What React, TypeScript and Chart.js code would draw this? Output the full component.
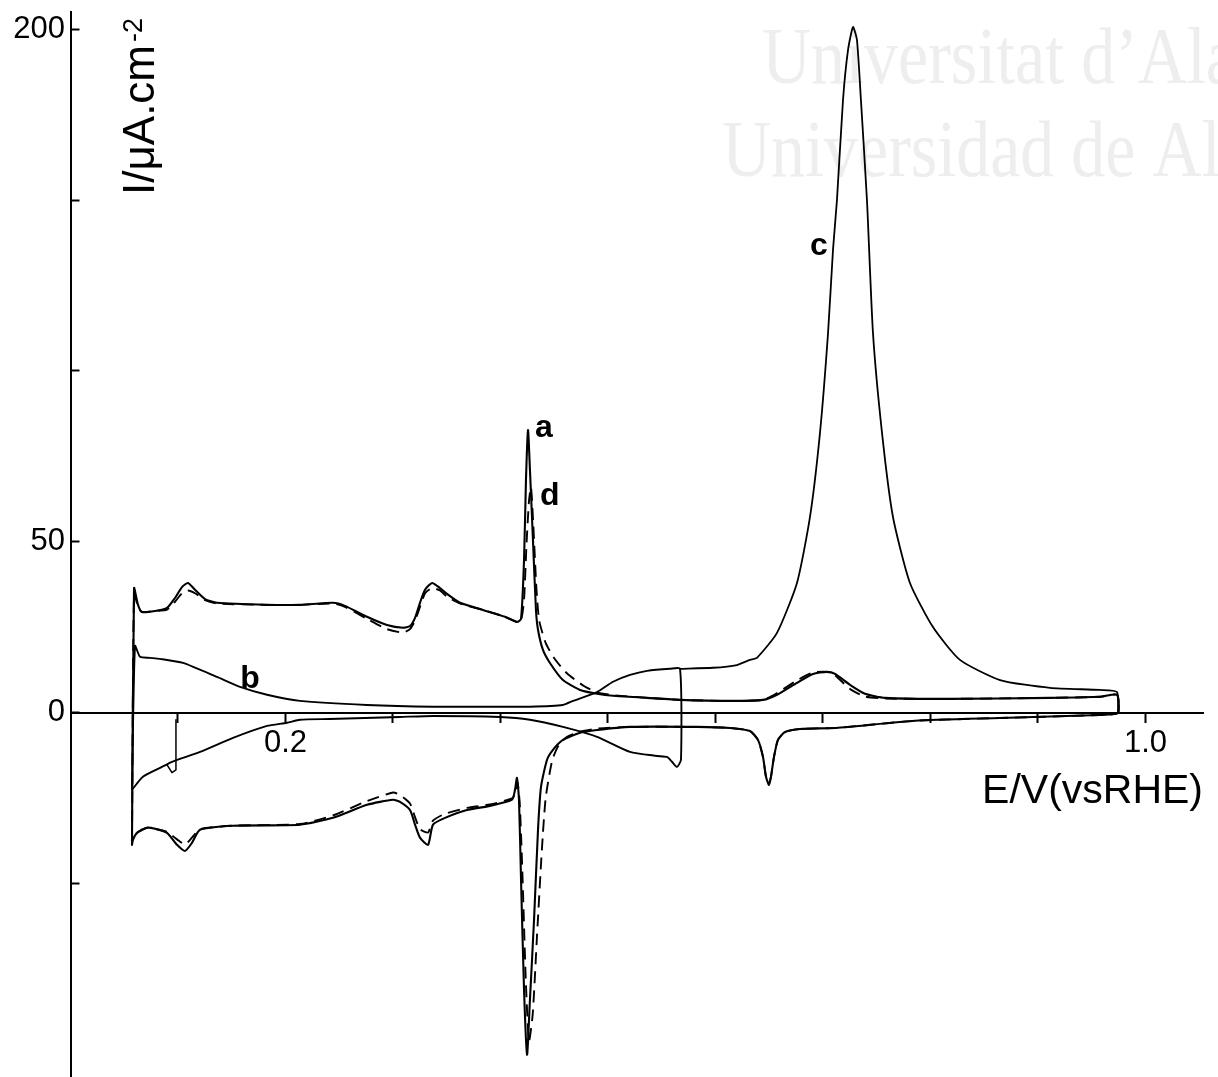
import React, { useEffect, useRef } from "react";
import { Chart, registerables } from "chart.js";

Chart.register(...registerables);

// ---- Data (E in V vs RHE, I in µA·cm⁻²) ----
// Curve a (solid, full voltammogram)
const aPotential = [
  0.0572, 0.0591, 0.0628, 0.0665, 0.0786, 0.0898, 0.0972, 0.1037, 0.1093, 0.1158,
  0.1251, 0.1363, 0.1828, 0.2135, 0.2442, 0.2553, 0.2758, 0.2944, 0.3093, 0.3158,
  0.3205, 0.3251, 0.3298, 0.3363, 0.3437, 0.3502, 0.3623, 0.3837, 0.4042, 0.4153,
  0.4191, 0.4219, 0.4237, 0.4256, 0.4274, 0.4302, 0.433, 0.4349, 0.4395, 0.446,
  0.4581, 0.474, 0.4898, 0.5047, 0.5363, 0.567, 0.6135, 0.6442, 0.6572, 0.6758,
  0.6907, 0.7037, 0.7112, 0.7251, 0.7391, 0.7577, 0.8181, 0.9112, 0.9577, 0.9735,
  0.9744, 0.9577, 0.8647, 0.7856, 0.7121, 0.6786, 0.6647, 0.6581, 0.6544, 0.6516,
  0.6498, 0.647, 0.6442, 0.6395, 0.6321, 0.6135, 0.5828, 0.5205, 0.4898, 0.474,
  0.4581, 0.4488, 0.4433, 0.4377, 0.4349, 0.4312, 0.4274, 0.4247, 0.4219, 0.4191,
  0.4172, 0.4153, 0.4135, 0.4107, 0.3902, 0.3688, 0.3484, 0.3372, 0.3326, 0.3251,
  0.3205, 0.3158, 0.3065, 0.3, 0.2758, 0.2442, 0.2135, 0.1512, 0.1205, 0.113,
  0.1065, 0.0991, 0.0898, 0.0786, 0.0712, 0.0619, 0.0581, 0.0572,
];
const aCurrent = [
  -38.6, 36.5, 31.6, 29.5, 29.8, 30.7, 33.6, 36.8, 38.0, 36.0,
  33.3, 32.2, 31.6, 31.6, 32.2, 31.3, 28.1, 25.7, 24.9, 25.4,
  27.8, 32.2, 36.0, 38.0, 36.5, 34.8, 32.2, 30.1, 28.1, 26.6,
  27.5, 44.7, 68.1, 82.7, 71.1, 50.6, 30.1, 24.3, 18.4, 14.6,
  9.6, 6.7, 5.6, 5.0, 4.4, 3.8, 3.5, 3.8, 5.3, 8.8,
  11.4, 12.0, 11.4, 8.2, 5.6, 4.4, 4.1, 4.4, 4.7, 5.3,
  0, -0.6, -1.5, -2.3, -4.4, -4.7, -5.6, -7.9, -12.9, -18.7,
  -21.1, -18.7, -12.9, -7.9, -5.3, -4.4, -4.1, -4.1, -5.0, -5.8,
  -7.9, -10.8, -13.7, -21.6, -34.2, -60.5, -83.9, -100, -81, -48.8,
  -25.4, -19.0, -22.5, -25.4, -27.2, -28.4, -30.7, -32.7, -38.6, -36.5,
  -32.7, -28.4, -26.0, -25.4, -26.9, -30.7, -32.7, -33.0, -34.2, -38.0,
  -40.4, -38.6, -35.1, -33.9, -33.6, -35.1, -37.1, -38.6,
];

// Curve d (dashed)
const dPotential = [
  0.0572, 0.0591, 0.0628, 0.0665, 0.0786, 0.0898, 0.0972, 0.1037, 0.1093, 0.1158,
  0.1251, 0.1363, 0.1828, 0.2135, 0.2442, 0.2553, 0.2758, 0.2944, 0.3093, 0.3158,
  0.3205, 0.3251, 0.3298, 0.3363, 0.3437, 0.3502, 0.3623, 0.3837, 0.4042, 0.4153,
  0.4191, 0.4219, 0.424, 0.4265, 0.4284, 0.4305, 0.4335, 0.436, 0.442, 0.45,
  0.462, 0.478, 0.4898, 0.5047, 0.5363, 0.567, 0.6135, 0.6442, 0.6572, 0.6758,
  0.6907, 0.7037, 0.7112, 0.7251, 0.7391, 0.7577, 0.8181, 0.9112, 0.9577, 0.9735,
  0.9744, 0.9577, 0.8647, 0.7856, 0.7121, 0.6786, 0.6647, 0.6581, 0.6544, 0.6516,
  0.6498, 0.647, 0.6442, 0.6395, 0.6321, 0.6135, 0.5828, 0.5205, 0.4898, 0.474,
  0.462, 0.454, 0.448, 0.442, 0.4385, 0.434, 0.43, 0.4265, 0.4235, 0.4205,
  0.418, 0.416, 0.414, 0.4107, 0.3902, 0.3688, 0.3484, 0.3372, 0.3326, 0.3251,
  0.3205, 0.3158, 0.3065, 0.3, 0.2758, 0.2442, 0.2135, 0.1512, 0.1205, 0.113,
  0.1065, 0.0991, 0.0898, 0.0786, 0.0712, 0.0619, 0.0581, 0.0572,
];
const dCurrent = [
  -37.5, 35.0, 31.0, 29.5, 29.8, 30.2, 32.5, 35.0, 35.8, 35.0,
  33.0, 32.0, 31.6, 31.6, 32.0, 31.0, 27.5, 24.5, 23.5, 24.5,
  27.0, 31.0, 35.0, 36.5, 35.8, 34.0, 32.0, 30.1, 28.1, 26.6,
  27.0, 33.0, 48.0, 62.0, 66.0, 55.0, 36.0, 27.0, 20.5, 16.0,
  11.5, 7.8, 6.0, 5.2, 4.4, 3.8, 3.5, 3.8, 5.8, 9.5,
  11.8, 12.0, 11.0, 7.0, 4.8, 4.2, 4.1, 4.4, 4.7, 5.3,
  0, -0.6, -1.5, -2.3, -4.4, -4.7, -5.6, -7.9, -12.9, -18.7,
  -20.5, -18.7, -12.9, -7.9, -5.3, -4.4, -4.1, -4.1, -4.6, -5.5,
  -7.0, -9.5, -14.0, -25.0, -40.0, -65.0, -88.0, -96.0, -78.0, -48.0,
  -27.0, -20.5, -23.5, -25.0, -26.8, -27.8, -29.5, -31.5, -35.0, -34.0,
  -30.5, -26.5, -24.0, -23.3, -25.8, -30.0, -32.5, -33.0, -34.0, -36.5,
  -38.5, -37.0, -34.8, -33.9, -33.6, -35.0, -36.8, -37.5,
];

// Curve b (solid, restricted window)
const bPotential = [
  0.0572, 0.06, 0.0647, 0.074, 0.0833, 0.1047, 0.1363, 0.1577, 0.1828, 0.2135,
  0.2758, 0.3372, 0.3995, 0.4274, 0.4581, 0.4674, 0.4898, 0.5047, 0.5205, 0.5363,
  0.5577, 0.567, 0.5679, 0.5642, 0.5595, 0.5549, 0.5456, 0.5205, 0.4898, 0.4581,
  0.4274, 0.3995, 0.3372, 0.3065, 0.2409, 0.2135, 0.2014, 0.1828, 0.1512, 0.1205,
  0.0944, 0.0833, 0.0674, 0.0572,
];
const bCurrent = [
  -22.5, 19.6, 16.4, 16.1, 15.8, 14.6, 10.5, 7.6, 5.3, 3.5,
  2.3, 1.8, 1.8, 1.8, 2.3, 3.5, 6.1, 9.1, 11.1, 12.3,
  12.9, 12.9, -13.7, -15.8, -14.3, -12.9, -12.6, -11.4, -7.0, -4.1,
  -2.0, -1.2, -0.9, -1.2, -1.8, -2.0, -2.9, -3.8, -7.3, -11.4,
  -14.3, -16.1, -18.7, -22.5,
];
// small start-of-scan trace at 0.1 V
const b0Potential = [0.0898, 0.0944, 0.0981, 0.0981];
const b0Current = [-15.2, -17.5, -16.7, -2.0];

// Curve c (solid, large oxidation peak)
const cPotential = [
  0.567, 0.5977, 0.62, 0.6321, 0.6386, 0.6572, 0.6758, 0.6879, 0.6972, 0.7047,
  0.7093, 0.713, 0.7186, 0.7233, 0.7279, 0.7316, 0.7353, 0.7409, 0.7465, 0.7549,
  0.7651, 0.7809, 0.8023, 0.8274, 0.8647, 0.9112, 0.9577, 0.9735, 0.9744,
];
const cCurrent = [
  12.9, 13.2, 14.0, 15.5, 16.1, 23.4, 38.0, 57.3, 81.9, 111.1,
  135.4, 150.0, 179.2, 193.9, 200.6, 196.8, 179.2, 150.0, 111.1, 81.9,
  57.3, 38.0, 25.1, 15.5, 9.6, 7.3, 6.7, 6.1, 0,
];

// Curve labels
const curveLabels = ["a", "d", "b", "c"];
const curveLabelPotential = [0.432, 0.4367, 0.158, 0.688];
const curveLabelCurrent = [80.7, 60.8, 7.3, 133.9];

// Axes
const xTickValues = [0.1, 0.2, 0.3, 0.4, 0.5, 0.6, 0.7, 0.8, 0.9, 1.0];
const xTickLabels = ["", "0.2", "", "", "", "", "", "", "", "1.0"];
const yTickValues = [-50, 0, 50, 100, 150, 200];
const yTickLabels = ["", "0", "50", "", "", "200"];
const xTitle = "E/V(vsRHE)";
const yTitle = "I/μA.cm";
const yTitleSup = "-2";
const watermarkLines = ["Universitat d\u2019Alacant", "Universidad de Alicante"];

const toPoints = (xs: number[], ys: number[]) => xs.map((x, i) => ({ x, y: ys[i] }));

const FONT = "'Liberation Sans', Arial, sans-serif";

const zeroPadding = (s: any) => {
  s.paddingTop = 0;
  s.paddingBottom = 0;
  s.paddingLeft = 0;
  s.paddingRight = 0;
};

const textPlugin = {
  id: "cvTexts",
  beforeDraw(chart: any) {
    const ctx = chart.ctx;
    ctx.save();
    ctx.fillStyle = "#eeeeee";
    ctx.font = "80px 'Liberation Serif', 'Times New Roman', serif";
    ctx.textBaseline = "alphabetic";
    ctx.textAlign = "left";
    const starts = [[762, 83], [722, 176]];
    watermarkLines.forEach((t, i) => {
      ctx.save();
      ctx.translate(starts[i][0], starts[i][1]);
      ctx.scale(0.85, 1);
      ctx.fillText(t, 0, 0);
      ctx.restore();
    });
    ctx.restore();
  },
  afterDraw(chart: any) {
    const ctx = chart.ctx;
    const xs = chart.scales.x;
    const ys = chart.scales.y;
    const area = chart.chartArea;
    ctx.save();
    ctx.fillStyle = "#000";
    // curve labels
    ctx.font = `bold 32px ${FONT}`;
    ctx.textAlign = "left";
    ctx.textBaseline = "alphabetic";
    curveLabels.forEach((t, i) => {
      ctx.fillText(t, xs.getPixelForValue(curveLabelPotential[i]), ys.getPixelForValue(curveLabelCurrent[i]));
    });
    // x axis title
    ctx.font = `41px ${FONT}`;
    ctx.textAlign = "right";
    ctx.fillText(xTitle, area.right, ys.getPixelForValue(0) + 90);
    // y axis title (rotated)
    ctx.save();
    ctx.translate(area.left + 83, area.top + 183);
    ctx.rotate(-Math.PI / 2);
    ctx.textAlign = "left";
    ctx.font = `44px ${FONT}`;
    ctx.fillText(yTitle, 0, 0);
    const w = ctx.measureText(yTitle).width;
    ctx.font = `27px ${FONT}`;
    ctx.fillText(yTitleSup, w + 3, -12);
    ctx.restore();
    ctx.restore();
  },
};

export default function App() {
  const canvasRef = useRef<HTMLCanvasElement | null>(null);

  useEffect(() => {
    if (!canvasRef.current) return;
    Chart.defaults.font.family = FONT;
    const common = {
      pointRadius: 0,
      borderColor: "#000",
      backgroundColor: "#000",
      fill: false,
      tension: 0.2,
      borderJoinStyle: "round",
      borderCapStyle: "round",
    };
    const chart = new Chart(canvasRef.current, {
      type: "line",
      data: {
        datasets: [
          { label: "a", data: toPoints(aPotential, aCurrent), borderWidth: 2.1, ...common },
          { label: "d", data: toPoints(dPotential, dCurrent), borderWidth: 1.9, borderDash: [12, 7], ...common, borderCapStyle: "butt" },
          { label: "b", data: toPoints(bPotential, bCurrent), borderWidth: 1.9, ...common },
          { label: "b0", data: toPoints(b0Potential, b0Current), borderWidth: 1.5, ...common, tension: 0 },
          { label: "c", data: toPoints(cPotential, cCurrent), borderWidth: 1.8, ...common },
        ],
      },
      options: {
        responsive: false,
        animation: false,
        devicePixelRatio: 1,
        layout: { padding: { top: 12, right: 15, bottom: 0, left: 0 } },
        plugins: { legend: { display: false }, tooltip: { enabled: false } },
        scales: {
          x: {
            type: "linear",
            min: 0,
            max: 1.0535,
            position: { y: 0 },
            afterFit: zeroPadding,
            afterBuildTicks: (s: any) => {
              s.ticks = xTickValues.map((v) => ({ value: v }));
            },
            ticks: {
              autoSkip: false,
              maxRotation: 0,
              padding: 3,
              color: "#000",
              font: { size: 31, family: FONT },
              callback: (v: any) => {
                const i = xTickValues.findIndex((t) => Math.abs(t - Number(v)) < 1e-6);
                return i >= 0 ? xTickLabels[i] : "";
              },
            },
            grid: { drawOnChartArea: false, drawTicks: true, tickLength: 9, tickWidth: 2, tickColor: "#000" },
            border: { display: true, color: "#000", width: 2 },
          },
          y: {
            type: "linear",
            min: -106.5,
            max: 205,
            position: "left",
            afterFit: (s: any) => {
              zeroPadding(s);
              s.width = 70.5;
            },
            afterBuildTicks: (s: any) => {
              s.ticks = yTickValues.map((v) => ({ value: v }));
            },
            ticks: {
              autoSkip: false,
              padding: 14.5,
              color: "#000",
              font: { size: 31, family: FONT },
              callback: (v: any) => {
                const i = yTickValues.findIndex((t) => Math.abs(t - Number(v)) < 1e-6);
                return i >= 0 ? yTickLabels[i] : "";
              },
            },
            grid: { drawOnChartArea: false, drawTicks: true, tickLength: -9, tickWidth: 2, tickColor: "#000" },
            border: { display: true, color: "#000", width: 2 },
          },
        },
      },
      plugins: [textPlugin],
    } as any);
    return () => chart.destroy();
  }, []);

  return (
    <div style={{ position: "fixed", left: 0, top: 0, width: 1218, height: 1077, background: "#fff" }}>
      <canvas ref={canvasRef} width={1218} height={1077} style={{ display: "block" }} />
    </div>
  );
}
